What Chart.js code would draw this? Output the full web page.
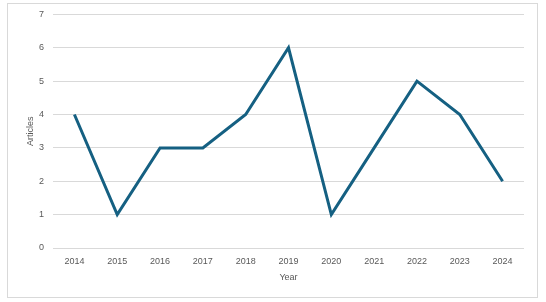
<!DOCTYPE html>
<html><head><meta charset="utf-8">
<script src="https://cdn.jsdelivr.net/npm/chart.js@4/dist/chart.umd.min.js"></script>
<style>html,body{margin:0;padding:0;background:#fff;}#wrap{position:absolute;left:0;top:0;width:546px;height:302px;}</style>
</head><body>
<div id="wrap"><canvas id="c" width="546" height="302"></canvas></div>
<script>
const years = ['2014','2015','2016','2017','2018','2019','2020','2021','2022','2023','2024'];
const articles = [4,1,3,3,4,6,1,3,5,4,2];
const yTicks = [0,1,2,3,4,5,6,7];

const frame = {
  id:'frame',
  beforeDraw(chart){
    const ctx = chart.ctx;
    ctx.save();
    ctx.fillStyle='#fff';
    ctx.fillRect(0,0,chart.width,chart.height);
    ctx.strokeStyle='#d9d9d9';
    ctx.lineWidth=1;
    ctx.strokeRect(7.5,3.5,530,294);
    ctx.restore();
  }
};
const font = {family:"'Liberation Sans', Arial, sans-serif", size:9};
new Chart(document.getElementById('c'), {
  type:'line',
  data:{labels:years, datasets:[{data:articles, borderColor:'#156082', borderWidth:3, pointRadius:0, tension:0, fill:false}]},
  options:{
    responsive:false, animation:false,
    layout:{padding:{left:25, right:22, top:14, bottom:19}},
    plugins:{legend:{display:false}, tooltip:{enabled:false}},
    scales:{
      x:{
        offset:true,
        grid:{display:false, drawTicks:false},
        border:{display:false},
        ticks:{color:'#595959', font, padding:8, maxRotation:0},
        title:{display:true, text:'Year', color:'#595959', font, padding:0},
        afterFit(s){ s.height = 35; }
      },
      y:{
        min:0, max:7,
        afterBuildTicks(s){ s.ticks = yTicks.map(v=>({value:v})); },
        grid:{color:'#d9d9d9', drawTicks:false, lineWidth:1},
        border:{display:false},
        ticks:{color:'#595959', font, padding:9},
        title:{display:true, text:'Articles', color:'#595959', font, padding:0},
        afterFit(s){ s.width = 28; }
      }
    }
  },
  plugins:[frame]
});
</script>
</body></html>
